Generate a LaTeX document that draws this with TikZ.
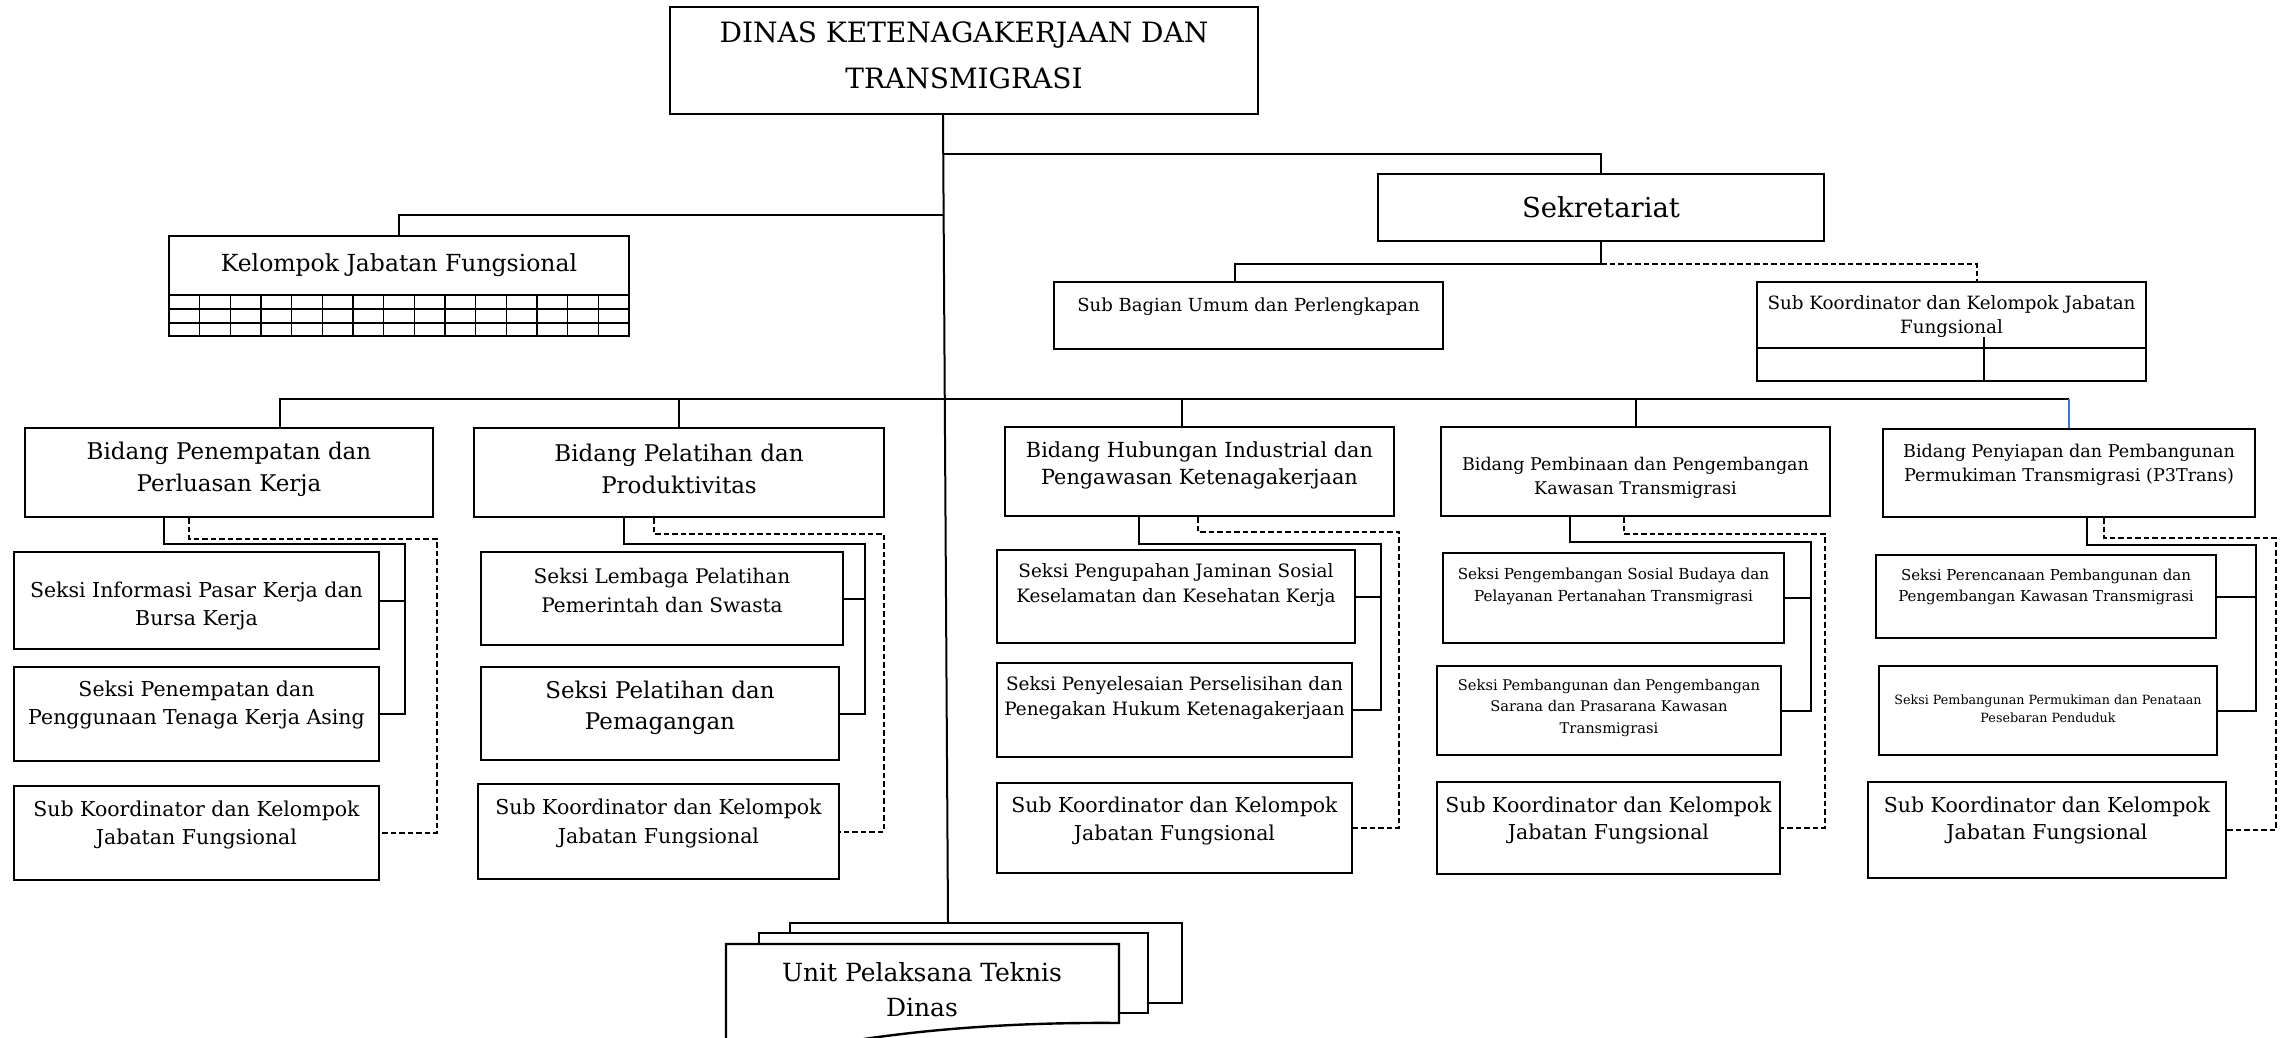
\documentclass[tikz,border=0pt]{standalone}
\usepackage{fontspec}
\setmainfont{DejaVu Serif}
\usetikzlibrary{fit}
\definecolor{linkblue}{RGB}{68,114,196}
\newcommand\fs[2]{\fontsize{#1}{#2}\selectfont}
% box from corner #2 to corner #3, text #6 centred at height #5, font #4
\newcommand\orgbox[6]{%
  \node[box, fit={#2 #3}] (#1) {};
  \node[lbl, font=\fs#4] (#1-t) at (#1.center |- 0,#5) {#6};}

\begin{document}
\begin{tikzpicture}[x=1pt, y=-1pt,
  box/.style={draw, line width=2.4pt, inner sep=0pt, fill=white},
  lbl/.style={align=center, inner sep=0pt},
  conn/.style={line width=2pt},
  dconn/.style={line width=2pt, dash pattern=on 5.5pt off 3pt},
  grid/.style={line width=1.6pt}]
\useasboundingbox (0,0) rectangle (2282,1038);
\clip (0,0) rectangle (2282,1038);
\fill[white] (0,0) rectangle (2282,1038);

% head office and secretariat
\orgbox{dinas}{(670,7)}{(1258,114)}{{28}{46}}{55}{DINAS KETENAGAKERJAAN DAN\\TRANSMIGRASI}
\orgbox{sekre}{(1378,174)}{(1824,241)}{{27.5}{34}}{207}{Sekretariat}
\orgbox{subbag}{(1054,282)}{(1443,349)}{{18}{24}}{307}{Sub Bagian Umum dan Perlengkapan}
\orgbox{subks}{(1757,282)}{(2146,381)}{{18.3}{24}}{317}{Sub Koordinator dan Kelompok Jabatan\\Fungsional}
\draw[grid] (subks.west |- 0,348) -- (subks.east |- 0,348);
\draw[conn] (1984,337) -- (subks.south -| 1984,0);

% functional group with its table
\orgbox{kjf}{(169,236)}{(629,336)}{{23.5}{30}}{265}{Kelompok Jabatan Fungsional}
\foreach \r in {295,309,323} \draw[grid] (kjf.west |- 0,\r) -- (kjf.east |- 0,\r);
\foreach \i in {1,...,14} \draw[grid] (169+\i*30.667,295) -- (169+\i*30.667,336);

% divisions
\orgbox{b1}{(25,428)}{(433,517)}{{23}{32}}{469}{Bidang Penempatan dan\\Perluasan Kerja}
\orgbox{b2}{(474,428)}{(884,517)}{{23}{32}}{469}{Bidang Pelatihan dan\\Produktivitas}
\orgbox{b3}{(1005,427)}{(1394,516)}{{20.8}{27}}{465}{Bidang Hubungan Industrial dan\\Pengawasan Ketenagakerjaan}
\orgbox{b4}{(1441,427)}{(1830,516)}{{17.5}{24}}{478}{Bidang Pembinaan dan Pengembangan\\Kawasan Transmigrasi}
\orgbox{b5}{(1883,429)}{(2255,517)}{{17.6}{24}}{465}{Bidang Penyiapan dan Pembangunan\\Permukiman Transmigrasi (P3Trans)}

% sections
\orgbox{s11}{(14,552)}{(379,649)}{{20.5}{28}}{606}{Seksi Informasi Pasar Kerja dan\\Bursa Kerja}
\orgbox{s12}{(14,667)}{(379,761)}{{20.5}{28}}{705}{Seksi Penempatan dan\\Penggunaan Tenaga Kerja Asing}
\orgbox{s13}{(14,786)}{(379,880)}{{20.5}{28}}{825}{Sub Koordinator dan Kelompok\\Jabatan Fungsional}

\orgbox{s21}{(481,552)}{(843,645)}{{20.1}{29}}{590}{Seksi Lembaga Pelatihan\\Pemerintah dan Swasta}
\orgbox{s22}{(481,667)}{(839,760)}{{23}{31}}{708}{Seksi Pelatihan dan\\Pemagangan}
\orgbox{s23}{(478,784)}{(839,879)}{{20.5}{29}}{823}{Sub Koordinator dan Kelompok\\Jabatan Fungsional}

\orgbox{s31}{(997,550)}{(1355,643)}{{18.4}{25}}{585}{Seksi Pengupahan Jaminan Sosial\\Keselamatan dan Kesehatan Kerja}
\orgbox{s32}{(997,663)}{(1352,757)}{{18.4}{25}}{698}{Seksi Penyelesaian Perselisihan dan\\Penegakan Hukum Ketenagakerjaan}
\orgbox{s33}{(997,783)}{(1352,873)}{{20.5}{28}}{821}{Sub Koordinator dan Kelompok\\Jabatan Fungsional}

\orgbox{s41}{(1443,553)}{(1784,643)}{{15.2}{22}}{586}{Seksi Pengembangan Sosial Budaya dan\\Pelayanan Pertanahan Transmigrasi}
\orgbox{s42}{(1437,666)}{(1781,755)}{{14.7}{21.5}}{708}{Seksi Pembangunan dan Pengembangan\\Sarana dan Prasarana Kawasan\\Transmigrasi}
\orgbox{s43}{(1437,782)}{(1780,874)}{{20.5}{27}}{820}{Sub Koordinator dan Kelompok\\Jabatan Fungsional}

\orgbox{s51}{(1876,555)}{(2216,638)}{{15}{21}}{587}{Seksi Perencanaan Pembangunan dan\\Pengembangan Kawasan Transmigrasi}
\orgbox{s52}{(1879,666)}{(2217,755)}{{12.7}{18}}{709}{Seksi Pembangunan Permukiman dan Penataan\\Pesebaran Penduduk}
\orgbox{s53}{(1868,782)}{(2226,878)}{{20.5}{27}}{820}{Sub Koordinator dan Kelompok\\Jabatan Fungsional}

% technical units: stacked document shapes
\node[box, fit={(790,923) (1182,1003)}] (upt3) {};
\node[box, fit={(759,933) (1148,1013)}] (upt2) {};
\draw[line width=2.4pt, fill=white] (726,1075) -- (726,944) -- (1119,944) -- (1119,1023)
  .. controls (1010,1022) and (900,1030) .. (800,1050)
  .. controls (770,1057) and (745,1066) .. (726,1075) -- cycle;
\node[lbl, font=\fs{25}{35}] (upt) at (922,990) {Unit Pelaksana Teknis\\Dinas};

% main spine and upper branches
\coordinate (sp1) at (943,154);
\coordinate (sp2) at (944,215);
\draw[conn] (dinas.south -| 943,0) -- (upt3.north -| 948,0);
\draw[conn] (sp1) -| (sekre.north);
\draw[conn] (sp2) -| (kjf.north);

% secretariat branches
\coordinate (sk) at (1601,264);
\draw[conn] (sekre.south) -- (sk) -| (subbag.north -| 1235,0);
\draw[dconn] (sk) -| (subks.north -| 1977,0);

% division bus
\coordinate (busL) at (280,399);
\coordinate (busR) at (2069,399);
\draw[conn] (b1.north -| busL) -- (busL) -- (busR);
\draw[conn] (b2.north |- busL) -- (b2.north);
\draw[conn] (1182,399) -- (b3.north -| 1182,0);
\draw[conn] (b4.north |- busL) -- (b4.north);
\draw[conn, draw=linkblue, line width=1.6pt] (busR) -- (b5.north);

% section brackets (solid) and coordinator links (dashed)
\draw[conn] (b1.south -| 164,0) |- (405,544) |- (s12.east);
\draw[conn] (s11.east) -- (s11.east -| 405,0);
\draw[dconn] (b1.south -| 189,0) |- (437,539) |- (s13.east);

\draw[conn] (b2.south -| 624,0) |- (865,544) |- (s22.east);
\draw[conn] (s21.east) -- (s21.east -| 865,0);
\draw[dconn] (b2.south -| 654,0) |- (884,534) |- (s23.east);

\draw[conn] (b3.south -| 1139,0) |- (1381,544) |- (s32.east);
\draw[conn] (s31.east) -- (s31.east -| 1381,0);
\draw[dconn] (b3.south -| 1198,0) |- (1399,532) |- (s33.east);

\draw[conn] (b4.south -| 1570,0) |- (1811,542) |- (s42.east);
\draw[conn] (s41.east) -- (s41.east -| 1811,0);
\draw[dconn] (b4.south -| 1624,0) |- (1825,534) |- (s43.east);

\draw[conn] (b5.south -| 2087,0) |- (2256,545) |- (s52.east);
\draw[conn] (s51.east) -- (s51.east -| 2256,0);
\draw[dconn] (b5.south -| 2104,0) |- (2276,538) |- (s53.east);
\end{tikzpicture}
\end{document}
